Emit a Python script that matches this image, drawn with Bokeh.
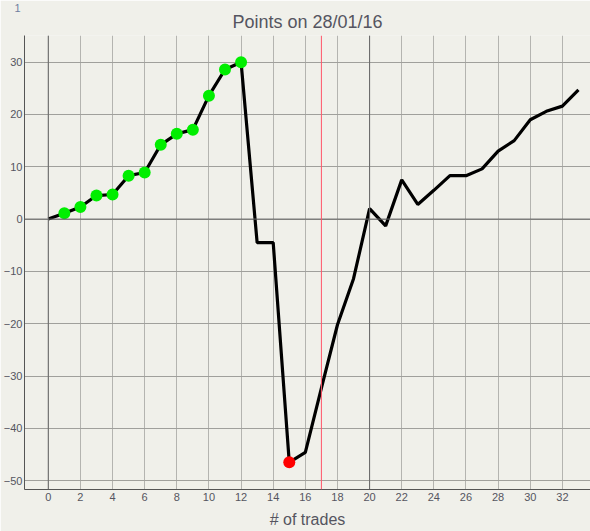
from bokeh.plotting import figure
from bokeh.models import Span, Title, SingleIntervalTicker, Range1d, ColumnDataSource
from bokeh.embed import file_html
from bokeh.resources import INLINE

# ---- data ----
trades = list(range(0, 34))
points = [0, 1.1, 2.3, 4.5, 4.7, 8.3, 8.9, 14.2, 16.3, 17.1, 23.6, 28.6, 30.0,
          -4.5, -4.5, -46.5, -44.6, -32.3, -20.2, -11.4, 2.0, -1.3, 7.5, 2.8,
          5.5, 8.3, 8.3, 9.6, 13.0, 15.0, 19.0, 20.6, 21.6, 24.7]
green_trades = [1, 2, 3, 4, 5, 6, 7, 8, 9, 10, 11, 12]
red_trades = [15]
marker_trade = 17
title_text = "Points on 28/01/16"
x_label = "# of trades"
corner_text = "1"

BG = "#f0f0ea"
TXT = "#555560"
FONT = "Liberation Sans"

p = figure(width=590, height=531, output_backend="svg", toolbar_location=None,
           x_range=Range1d(-1.48, 33.75), y_range=Range1d(-51.7, 35.1),
           min_border_left=0, min_border_right=0, min_border_top=35,
           min_border_bottom=42)
p.background_fill_color = BG
p.border_fill_color = BG
p.outline_line_color = None

main_title = Title(text=title_text, text_font=FONT, text_font_size="18px",
                   text_font_style="normal", text_color=TXT, align="center",
                   standoff=8, offset=4)
p.add_layout(main_title, "above")
corner = Title(text=corner_text, text_font=FONT, text_font_size="11px",
               text_font_style="normal", text_color="#7080a0", align="left",
               standoff=-13, offset=-10)
p.add_layout(corner, "above")

for ax in (p.xaxis[0], p.yaxis[0]):
    ax.major_tick_out = 0
    ax.major_tick_in = 0
    ax.minor_tick_out = 0
    ax.minor_tick_in = 0
    ax.axis_line_color = "#555555"
    ax.major_label_text_font = FONT
    ax.major_label_text_font_size = "11px"
    ax.major_label_text_color = TXT

p.xaxis.ticker = SingleIntervalTicker(interval=2)
p.yaxis.ticker = SingleIntervalTicker(interval=10)
p.xaxis.major_label_standoff = 3
p.yaxis.major_label_standoff = 2
p.xaxis.axis_label = x_label
p.xaxis.axis_label_text_font = FONT
p.xaxis.axis_label_text_font_size = "16px"
p.xaxis.axis_label_text_font_style = "normal"
p.xaxis.axis_label_text_color = TXT
p.xaxis.axis_label_standoff = 7

p.xgrid.grid_line_color = "#b4b4b0"
p.ygrid.grid_line_color = "#a0a09c"

for xv in (0, 20):
    p.add_layout(Span(location=xv, dimension="height", line_color="#666666", line_width=1))
p.add_layout(Span(location=0, dimension="width", line_color="#666666", line_width=1))
p.add_layout(Span(location=marker_trade, dimension="height", line_color="#ff5468", line_width=1))

src = ColumnDataSource(dict(x=trades, y=points))
p.line("x", "y", source=src, line_color="black", line_width=3.2)

gy = [points[trades.index(t)] for t in green_trades]
ry = [points[trades.index(t)] for t in red_trades]
p.scatter(green_trades, gy, size=12, fill_color="#00ee00", line_color=None)
p.scatter(red_trades, ry, size=12, fill_color="#ff0000", line_color=None)

open("out.html", "w").write(file_html(p, INLINE))
